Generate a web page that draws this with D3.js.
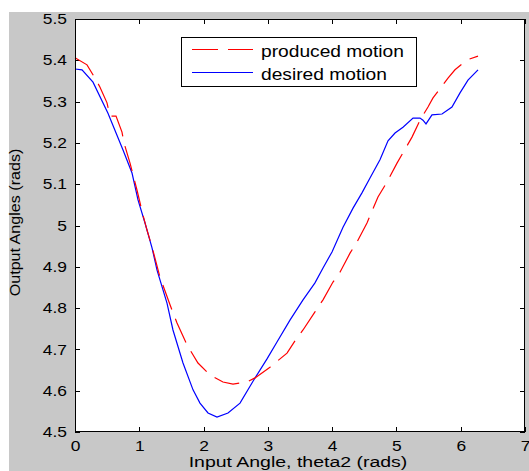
<!DOCTYPE html>
<html>
<head>
<meta charset="utf-8">
<script src="https://cdn.jsdelivr.net/npm/d3@7"></script>
<style>
  html, body { margin: 0; padding: 0; background: #ffffff; }
  svg { display: block; }
  text { font-family: "Liberation Sans", Arial, sans-serif; fill: #000; }
</style>
</head>
<body>
<svg id="chart" width="529" height="471"></svg>
<script>
// ---- data ----
const xTicks = [0, 1, 2, 3, 4, 5, 6, 7];
const xTickLabels = ["0", "1", "2", "3", "4", "5", "6", "7"];
const yTicks = [4.5, 4.6, 4.7, 4.8, 4.9, 5.0, 5.1, 5.2, 5.3, 5.4, 5.5];
const yTickLabels = ["4.5", "4.6", "4.7", "4.8", "4.9", "5", "5.1", "5.2", "5.3", "5.4", "5.5"];

const seriesNames = ["produced motion", "desired motion"];

const producedX = [0.0, 0.187, 0.311, 0.389, 0.498, 0.544, 0.638, 0.731, 0.762, 0.856, 0.964, 1.058, 1.120, 1.198,
  1.322, 1.478, 1.587, 1.742, 1.913, 2.100, 2.302, 2.458, 2.676, 2.800, 3.033, 3.298, 3.453, 3.547, 3.733, 3.858,
  4.013, 4.122, 4.278, 4.387, 4.542, 4.713, 4.853, 5.009, 5.242, 5.367, 5.491, 5.569, 5.802, 5.911, 6.098, 6.269];
const producedY = [5.406, 5.389, 5.357, 5.335, 5.297, 5.265, 5.265, 5.226, 5.200, 5.151, 5.086, 5.025, 4.989, 4.948,
  4.875, 4.808, 4.764, 4.711, 4.667, 4.638, 4.621, 4.616, 4.621, 4.631, 4.657, 4.691, 4.728, 4.747, 4.791, 4.820,
  4.863, 4.887, 4.933, 4.960, 5.006, 5.069, 5.105, 5.151, 5.214, 5.255, 5.287, 5.309, 5.357, 5.377, 5.401, 5.410];

const desiredX = [0.0, 0.109, 0.280, 0.513, 0.747, 0.887, 0.980, 1.089, 1.198, 1.276, 1.431, 1.524, 1.680, 1.836,
  1.944, 2.069, 2.209, 2.380, 2.567, 2.769, 2.987, 3.142, 3.344, 3.547, 3.733, 3.858, 3.998, 4.169, 4.325, 4.464,
  4.589, 4.744, 4.869, 4.978, 5.102, 5.258, 5.367, 5.413, 5.460, 5.553, 5.709, 5.864, 5.989, 6.113, 6.269];
const desiredY = [5.379, 5.377, 5.347, 5.272, 5.183, 5.127, 5.062, 5.006, 4.946, 4.892, 4.812, 4.747, 4.667, 4.602,
  4.570, 4.546, 4.536, 4.546, 4.570, 4.623, 4.677, 4.718, 4.771, 4.820, 4.861, 4.897, 4.936, 4.996, 5.042, 5.079,
  5.115, 5.159, 5.205, 5.224, 5.238, 5.260, 5.260, 5.255, 5.246, 5.268, 5.270, 5.287, 5.321, 5.352, 5.377];

// ---- layout ----
const W = 529, H = 471;
const plot = { left: 75, right: 525, top: 19, bottom: 432 };
const svg = d3.select("#chart");

// figure background (MATLAB grey)
svg.append("rect").attr("x", 9).attr("y", 12).attr("width", W - 9).attr("height", H - 12).attr("fill", "#c8c8c8");
// axes background
svg.append("rect").attr("x", plot.left).attr("y", plot.top)
  .attr("width", plot.right - plot.left).attr("height", plot.bottom - plot.top).attr("fill", "#ffffff");

const x = d3.scaleLinear().domain([0, 7]).range([plot.left, plot.right]);
const y = d3.scaleLinear().domain([4.5, 5.5]).range([plot.bottom, plot.top]);

const TICK_FS = 14.5, SX = 1.2;

function styleAxis(g) {
  g.select(".domain").remove();
  g.selectAll(".tick line").attr("stroke", "#000").attr("stroke-width", 1).attr("shape-rendering", "crispEdges");
}

// bottom axis
const gx = svg.append("g").attr("transform", `translate(0,${plot.bottom})`)
  .call(d3.axisBottom(x).tickValues(xTicks).tickFormat((d, i) => xTickLabels[i]).tickSize(-5).tickSizeOuter(0).tickPadding(9));
styleAxis(gx);
gx.selectAll("text").attr("font-size", TICK_FS).attr("fill", "#000")
  .attr("font-family", "Liberation Sans, Arial, sans-serif").attr("transform", `scale(${SX},1)`);

// top axis (ticks only)
const gt = svg.append("g").attr("transform", `translate(0,${plot.top})`)
  .call(d3.axisTop(x).tickValues(xTicks).tickFormat("").tickSize(-5).tickSizeOuter(0));
styleAxis(gt);

// left axis
const gy = svg.append("g").attr("transform", `translate(${plot.left},0)`)
  .call(d3.axisLeft(y).tickValues(yTicks).tickFormat((d, i) => yTickLabels[i]).tickSize(-5).tickSizeOuter(0).tickPadding(8));
styleAxis(gy);
gy.selectAll("text").attr("font-size", TICK_FS).attr("fill", "#000")
  .attr("font-family", "Liberation Sans, Arial, sans-serif")
  .attr("x", -8 / SX).attr("transform", `scale(${SX},1)`);

// right axis (ticks only)
const gr = svg.append("g").attr("transform", `translate(${plot.right},0)`)
  .call(d3.axisRight(y).tickValues(yTicks).tickFormat("").tickSize(-5).tickSizeOuter(0));
styleAxis(gr);

// curves
const produced = producedX.map((v, i) => [v, producedY[i]]);
const desired = desiredX.map((v, i) => [v, desiredY[i]]);
const line = d3.line().x(d => x(d[0])).y(d => y(d[1]));

svg.append("path").datum(desired).attr("d", line)
  .attr("fill", "none").attr("stroke", "#0000ff").attr("stroke-width", 1.2);
svg.append("path").datum(produced).attr("d", line)
  .attr("fill", "none").attr("stroke", "#ff0000").attr("stroke-width", 1.2).attr("stroke-dasharray", "26,10");

// axes box
svg.append("rect").attr("x", plot.left + 0.5).attr("y", plot.top + 0.5)
  .attr("width", plot.right - plot.left - 1).attr("height", plot.bottom - plot.top - 1)
  .attr("fill", "none").attr("stroke", "#000").attr("stroke-width", 1);

// axis labels
svg.append("text").attr("text-anchor", "middle").attr("font-size", 15)
  .attr("transform", `translate(298,467) scale(1.3,1)`).text("Input Angle, theta2 (rads)");
svg.append("text").attr("text-anchor", "middle").attr("font-size", 14)
  .attr("transform", `translate(19.5,222.5) rotate(-90) scale(1.15,1)`).text("Output Angles (rads)");

// legend
const lg = svg.append("g");
lg.append("rect").attr("x", 181.5).attr("y", 37.5).attr("width", 235).attr("height", 49)
  .attr("fill", "#fff").attr("stroke", "#000").attr("stroke-width", 1);
const legendColors = ["#ff0000", "#0000ff"];
const legendDash = ["26,10", null];
const legendRows = [49.5, 72.5];
seriesNames.forEach((name, i) => {
  lg.append("line").attr("x1", 192).attr("x2", 253).attr("y1", legendRows[i]).attr("y2", legendRows[i])
    .attr("stroke", legendColors[i]).attr("stroke-width", 1.2)
    .attr("stroke-dasharray", legendDash[i]);
  lg.append("text").attr("font-size", 16)
    .attr("transform", `translate(261,${legendRows[i] + 7}) scale(1.2,1)`).text(name);
});
</script>
</body>
</html>
